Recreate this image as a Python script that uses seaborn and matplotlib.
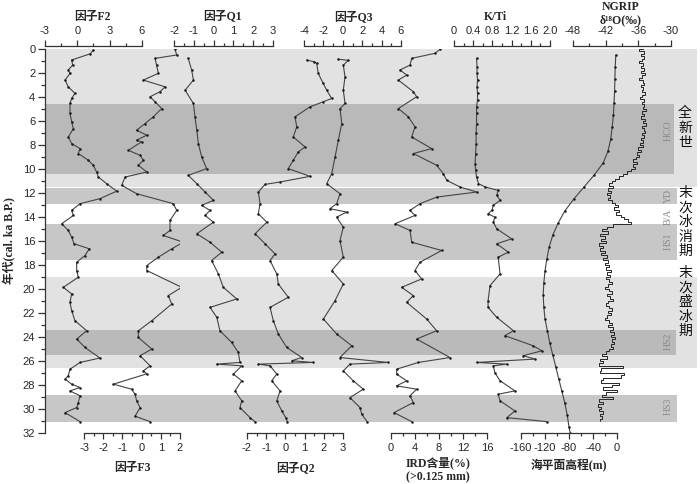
import matplotlib
matplotlib.use("Agg")
import matplotlib.pyplot as plt
from matplotlib.ticker import MultipleLocator, FormatStrFormatter
import seaborn as sns

# ---- data: ages in cal ka B.P. ----
f2_age = [0.08, 0.4, 0.92, 1.34, 1.75, 2.03, 2.59, 3.15, 3.7, 4.12, 4.54, 5.37, 6.07, 6.63, 7.33,
          7.88, 8.3, 8.71, 9.27, 9.69, 10.25, 10.67, 11.22, 11.85, 12.47, 12.89, 13.45, 13.87, 14.56,
          15.12, 15.68, 16.23, 16.65, 17.21, 17.77, 18.46, 19.02, 19.86, 20.41, 21.11, 21.8, 22.64,
          23.48, 24.17, 24.87, 25.75, 26.12, 26.68, 27.23, 27.51, 27.93, 28.21, 28.49, 28.9, 29.46,
          29.88, 30.3, 31.05]
f2 = [1.48, 1.2, -0.53, -0.43, -0.84, -0.68, -1.14, -0.84, -0.22, -0.53, -0.68, -0.68, -0.53, -0.37,
      -0.84, -0.53, 0.25, 0.09, 1.02, 1.48, 1.79, 1.95, 2.72, 3.65, 2.1, 0.25, -0.53, -0.37, -1.45,
      -0.84, -0.53, -0.3, 1.11, 0.71, -0.06, -0.06, 0.09, -1.3, -0.53, -0.68, -0.53, -0.22, 0.87,
      -0.06, 0.71, 2.1, 0.25, -0.68, -0.84, -1.14, -0.53, 0.25, -0.68, 0.25, 0.09, -0.06, -1.14, 0.25]

f3_age = [0.03, 0.5, 0.78, 1.34, 2.03, 2.59, 3.15, 3.56, 3.98, 4.4, 4.96, 5.65, 6.21, 6.77, 7.18,
          7.6, 7.74, 8.44, 8.86, 9.27, 9.69, 10.25, 10.67, 11.36, 12.06, 12.89, 13.45, 14.29, 15.12,
          15.54, 16.1, 16.65, 17.35, 18.05, 18.46, 19.86, 20.55, 21.25, 22.64, 23.48, 24.04, 25.0,
          25.56, 26.4, 26.82, 27.07, 27.93, 28.35, 28.77, 29.32, 29.88, 30.6, 31.05]
f3 = [1.74, 1.83, 0.70, 0.78, 0.87, 0.09, 1.22, 0.96, 0.44, 0.70, 1.05, 0.61, 0.18, -0.26, 0.27,
      -0.26, 0.0, -0.69, -0.08, 0.09, -0.17, 0.27, -0.86, -1.04, -0.26, 1.65, 1.83, 1.48, 1.48,
      1.13, 2.17, 1.57, 0.87, 0.27, 0.27, 2.09, 1.39, 1.57, 0.53, -0.17, -0.17, 0.53, -0.08, 0.44,
      0.09, 0.27, -1.47, -0.52, -0.34, -0.26, -0.08, -0.34, 0.44]

q1_age = [0.78, 1.75, 2.59, 3.43, 4.54, 5.65, 6.77, 7.88, 9.0, 9.97, 10.53, 11.22, 11.92, 12.61,
          13.03, 13.45, 13.87, 14.43, 15.4, 16.1, 16.93, 17.63, 18.74, 19.86, 20.83, 21.53, 22.36,
          23.48, 24.45, 25.29, 26.12, 26.26, 26.4, 27.09, 27.65, 28.49, 29.32, 29.88, 30.72, 31.05]
q1 = [-1.28, -1.11, -1.02, -1.44, -1.02, -0.94, -0.85, -0.77, -0.6, -0.35, -1.28, -0.85, -0.43,
      -0.01, -0.6, -0.18, -0.43, -0.01, -0.85, -0.18, 0.41, -0.1, 0.24, 0.49, 1.17, -0.18, 0.16,
      0.32, 0.91, 1.25, 1.33, 0.16, 1.42, 1.0, 1.42, 1.08, 1.42, 1.33, 1.84, 2.09]

q2_age = [0.92, 1.06, 1.2, 2.03, 2.87, 3.43, 4.12, 4.4, 4.82, 5.65, 6.49, 7.33, 8.16, 8.58, 9.27,
          9.97, 10.61, 11.09, 11.28, 11.92, 12.89, 13.73, 14.43, 15.4, 16.23, 17.07, 17.63, 18.74,
          19.58, 20.69, 21.53, 22.64, 23.75, 24.87, 25.71, 25.98, 26.12, 26.26, 26.4, 27.09, 27.65,
          28.49, 29.32, 30.16, 30.72, 31.05]
q2 = [1.1, 1.5, 1.63, 1.71, 1.97, 2.15, 2.41, 1.97, 1.28, 0.5, 0.59, 0.41, 1.02, 0.67, 0.41, 0.15,
      1.28, -0.3, -1.06, -1.41, -1.32, -1.41, -0.97, -1.58, -1.06, -0.54, -0.8, -0.45, -0.37, 0.15,
      -0.8, -0.63, -0.37, 0.07, 0.85, 0.33, 1.45, -1.41, -0.8, -0.45, -0.71, -0.28, -0.45, -0.19,
      0.02, 0.1]

q3_age = [0.85, 0.95, 1.34, 2.31, 3.43, 4.54, 4.96, 6.21, 7.6, 9.0, 10.39, 11.22, 12.06, 12.89,
          13.31, 13.59, 14.01, 14.85, 15.96, 17.35, 18.46, 19.58, 20.97, 22.5, 23.75, 24.73, 25.71,
          26.12, 26.26, 26.82, 27.65, 28.35, 29.05, 29.88, 30.43, 31.05]
q3 = [-0.46, 0.57, 0.05, 0.23, 0.05, 0.23, -0.29, -0.11, -0.46, -0.8, -1.14, -1.66, -0.29, -0.63,
      -1.32, 0.4, -0.63, 0.05, -0.29, 0.05, -1.14, 0.05, -0.8, -2.0, -0.63, 0.92, -0.29, 4.66,
      0.74, 0.05, 1.08, 2.11, 0.74, 1.77, 1.95, 2.5]

ird_age = [0.03, 0.36, 0.78, 1.34, 1.75, 2.17, 2.59, 3.56, 3.98, 4.96, 5.65, 6.49, 7.33, 8.3, 8.71,
           9.69, 10.39, 10.94, 11.5, 11.92, 12.34, 12.89, 13.45, 13.87, 14.56, 15.12, 16.1, 16.79,
           17.77, 18.46, 19.16, 19.86, 20.55, 21.11, 22.5, 23.48, 24.17, 25.71, 26.12, 26.68,
           27.09, 27.65, 28.07, 28.35, 28.9, 29.46, 30.3, 31.05]
ird = [8.17, 7.33, 3.45, 3.17, 1.5, 2.62, 1.22, 3.72, 4.28, 1.22, 2.89, 4.0, 3.45, 6.78, 3.72,
       7.61, 8.72, 9.28, 11.5, 14.28, 7.61, 4.83, 3.17, 4.0, 0.67, 3.17, 3.45, 8.44, 4.83, 4.0,
       5.11, 1.78, 3.72, 2.61, 5.94, 7.61, 4.28, 9.83, 4.56, 0.94, 0.94, 2.61, 0.94, 4.28, 3.17,
       3.72, 0.5, 3.45]

kti_age = [0.78, 1.48, 2.03, 2.59, 3.15, 3.7, 4.26, 4.82, 5.37, 6.21, 7.04, 7.88, 8.71, 9.55,
           10.11, 10.67, 11.22, 11.5, 11.78, 12.2, 12.61, 13.03, 13.45, 13.73, 14.01, 14.43,
           14.98, 15.82, 16.23, 16.93, 17.35, 18.74, 19.72, 20.97, 21.53, 22.36, 23.48, 23.89,
           24.73, 25.15, 25.56, 25.84, 26.12, 26.26, 26.4, 26.96, 27.65, 28.49, 28.77, 29.32,
           30.16, 30.72, 31.05]
kti = [0.47, 0.48, 0.48, 0.49, 0.48, 0.49, 0.49, 0.47, 0.47, 0.47, 0.46, 0.46, 0.45, 0.44, 0.45,
       0.47, 0.51, 0.65, 0.92, 0.89, 0.96, 0.82, 0.79, 0.71, 0.85, 0.82, 0.89, 1.2, 0.89, 1.13,
       0.92, 0.96, 0.75, 0.71, 0.71, 0.89, 1.24, 1.06, 1.65, 1.83, 1.44, 1.69, 0.47, 1.1, 0.82,
       0.85, 0.96, 1.27, 0.92, 0.96, 1.27, 1.1, 1.93]

sea_age = [0.5, 1.5, 2.5, 3.5, 4.5, 5.5, 6.5, 7.5, 8.5, 9.5, 10.5, 11.5, 12.5, 13.5, 14.5, 15.5,
           16.5, 17.5, 18.5, 19.5, 20.5, 21.5, 22.5, 23.5, 24.5, 25.5, 26.5, 27.5, 28.5, 29.5,
           30.5, 31.5, 32.0]
sea = [-2, -3, -3.5, -4, -5, -6, -8, -10.5, -15, -23, -38, -55, -72, -87, -98, -107, -113, -117,
       -120, -122, -123, -122, -120, -116, -112, -107, -102, -97, -92, -87, -83, -80, -78]

# NGRIP d18O, one row per ka (0, 0.2, 0.4, 0.6, 0.8 ka into each)
ngrip = [-35.2, -35.8, -35.0, -35.5, -34.9,
         -35.4, -35.9, -35.1, -35.6, -35.0,
         -35.5, -34.8, -35.3, -35.9, -35.2,
         -34.9, -35.6, -35.1, -35.4, -34.8,
         -35.3, -35.7, -35.0, -35.4, -34.9,
         -35.2, -34.6, -35.3, -34.9, -35.5,
         -34.8, -35.2, -34.6, -35.4, -35.0,
         -34.7, -35.3, -35.0, -35.6, -35.1,
         -35.7, -35.2, -36.0, -35.5, -36.2,
         -35.8, -36.4, -36.9, -36.3, -37.0,
         -36.6, -37.4, -38.0, -38.9, -39.6,
         -40.2, -40.9, -41.3, -40.7, -41.6,
         -41.0, -41.8, -41.2, -41.6, -40.9,
         -40.3, -39.8, -40.4, -39.6, -40.1,
         -39.2, -38.6, -37.9, -37.3, -40.6,
         -41.8, -42.6, -41.5, -43.0, -42.2,
         -42.8, -41.9, -43.3, -42.4, -43.0,
         -42.1, -42.9, -41.8, -42.5, -41.6,
         -42.2, -41.4, -41.9, -41.0, -41.7,
         -41.2, -42.0, -41.4, -40.8, -41.6,
         -42.1, -41.3, -40.9, -41.8, -41.2,
         -40.7, -41.5, -42.0, -41.3, -40.9,
         -41.6, -41.0, -41.8, -42.2, -41.4,
         -40.9, -41.5, -40.6, -41.2, -40.5,
         -41.0, -40.3, -40.9, -40.4, -41.1,
         -40.6, -41.4, -42.0, -42.6, -41.8,
         -43.0, -42.4, -43.3, -38.9, -42.8,
         -43.1, -38.6, -39.2, -42.4, -42.9,
         -39.5, -40.8, -42.5, -39.9, -42.0,
         -42.6, -40.6, -43.2, -42.5, -43.4,
         -42.8, -43.3, -42.5, -43.1, -42.7,
         -43.0]
ngrip_age = [i * 0.2 for i in range(len(ngrip))]

# shaded intervals (top, bottom)
band_top = [0.0, 19.0, 4.6, 11.6, 14.6, 23.4, 28.8]
band_bottom = [11.5, 26.6, 10.4, 12.9, 17.6, 25.5, 31.1]

# ---- style ----
sns.set_theme(style="ticks")
plt.rcParams['font.family'] = ['Liberation Sans', 'Noto Sans CJK SC', 'DejaVu Sans']
plt.rcParams['axes.unicode_minus'] = False
LABEL_FONT = ['Liberation Serif', 'Noto Sans CJK SC', 'DejaVu Sans']
LINE = '#444444'
SPINE = '#333333'

W, H = 700, 484
Y0, Y1 = 49, 433  # pixel rows of age 0 and 32


def fx(x):
    return x / W


def fy(y):
    return 1 - y / H


fig = plt.figure(figsize=(7, 4.84), dpi=100)
fig.patch.set_facecolor('white')

# main axis: age scale + shaded bands
ax = fig.add_axes([fx(45), fy(Y1), (697 - 45) / W, (Y1 - Y0) / H])
ax.set_facecolor('none')
ax.set_xlim(0, 1)
ax.set_ylim(32, 0)
for s in ['top', 'right', 'bottom']:
    ax.spines[s].set_visible(False)
ax.spines['left'].set_color(SPINE)
ax.spines['left'].set_linewidth(0.9)
ax.set_xticks([])
ax.yaxis.set_major_locator(MultipleLocator(2))
ax.yaxis.set_minor_locator(MultipleLocator(1))
ax.tick_params(axis='y', which='major', length=5, width=0.9, labelsize=8, pad=2, left=True,
               color=SPINE)
ax.tick_params(axis='y', which='minor', length=3, width=0.9, left=True, color=SPINE)

band_right = [1.0, 1.0, (674 - 45) / 652, (677 - 45) / 652, (677 - 45) / 652,
              (676 - 45) / 652, (677 - 45) / 652]
band_color = ['#e2e2e2', '#e2e2e2', '#b9b9b9', '#c7c7c7', '#c7c7c7', '#bababa', '#c7c7c7']
for t, b, r, c in zip(band_top, band_bottom, band_right, band_color):
    ax.axhspan(t, b, xmin=0, xmax=r, color=c, lw=0, zorder=0)

fig.text(fx(10), fy(241), '年代(cal. ka B.P.)', rotation=90, ha='center', va='center',
         fontsize=8.5, family=LABEL_FONT, fontweight='bold')

# panels: (ages, values, left px, right px, xlim, major, minor, side, fmt)
panels = [
    (f2_age, f2, 45, 142, (-3, 6), 3, 1.5, 'top', '%d'),
    (f3_age, f3, 84, 180, (-3, 2), 1, 0.5, 'bottom', '%d'),
    (q1_age, q1, 174, 273, (-2, 3), 1, 0.5, 'top', '%d'),
    (q2_age, q2, 247, 343, (-2, 3), 1, 0.5, 'bottom', '%d'),
    (q3_age, q3, 304, 401, (-4, 6), 2, 1, 'top', '%d'),
    (ird_age, ird, 391, 487, (0, 16), 4, 2, 'bottom', '%d'),
    (kti_age, kti, 454, 550, (0, 2), 0.4, 0.2, 'top', '%.1f'),
    (sea_age, sea, 521, 617, (-160, 0), 40, 20, 'bottom', '%d'),
    (ngrip_age, ngrip, 573, 671, (-48, -30), 6, 3, 'top', '%d'),
]

for ages, vals, l, r, lim, major, minor, side, fmt in panels:
    pa = fig.add_axes([fx(l), fy(Y1), (r - l) / W, (Y1 - Y0) / H])
    pa.set_facecolor('none')
    if vals is ngrip:
        sns.lineplot(x=vals, y=ages, sort=False, estimator=None, ax=pa, color='#262626',
                     lw=0.7, drawstyle='steps-post')
    else:
        sns.lineplot(x=vals, y=ages, sort=False, estimator=None, ax=pa, color=LINE, lw=0.8,
                     marker='o', markersize=1.8, markeredgewidth=0, markerfacecolor='#1a1a1a')
    pa.set_xlim(*lim)
    pa.set_ylim(32, 0)
    pa.set_xlabel('')
    pa.set_ylabel('')
    pa.set_yticks([])
    for s in ['top', 'right', 'bottom', 'left']:
        pa.spines[s].set_visible(s == side)
    pa.spines[side].set_color(SPINE)
    pa.spines[side].set_linewidth(0.9)
    if side == 'top':
        pa.spines['top'].set_position(('outward', 2))
        pa.xaxis.set_ticks_position('top')
    else:
        pa.xaxis.set_ticks_position('bottom')
    pa.xaxis.set_major_locator(MultipleLocator(major))
    pa.xaxis.set_minor_locator(MultipleLocator(minor))
    if fmt == '%.1f':
        pa.set_xticks([0, 0.4, 0.8, 1.2, 1.6, 2.0])
        pa.set_xticklabels(['0', '0.4', '0.8', '1.2', '1.6', '2.0'])
    else:
        pa.xaxis.set_major_formatter(FormatStrFormatter(fmt))
    pa.tick_params(axis='x', which='major', length=4, width=0.9, labelsize=8, pad=3,
                   color=SPINE, top=(side == 'top'), bottom=(side == 'bottom'),
                   labeltop=(side == 'top'), labelbottom=(side == 'bottom'))
    pa.tick_params(axis='x', which='minor', length=2.5, width=0.9, color=SPINE,
                   top=(side == 'top'), bottom=(side == 'bottom'))

# axis titles
title_kw = dict(ha='center', va='center', fontsize=8.5, family=LABEL_FONT, fontweight='bold')
fig.text(fx(92), fy(17), '因子F2', **title_kw)
fig.text(fx(222), fy(16), '因子Q1', **title_kw)
fig.text(fx(353), fy(17), '因子Q3', **title_kw)
fig.text(fx(495), fy(17), 'K/Ti', **title_kw)
fig.text(fx(621), fy(7), 'NGRIP', **title_kw)
fig.text(fx(621), fy(20), 'δ¹⁸O(‰)', **title_kw)
fig.text(fx(132), fy(468), '因子F3', **title_kw)
fig.text(fx(295), fy(468), '因子Q2', **title_kw)
fig.text(fx(438), fy(463), 'IRD含量(%)', **title_kw)
fig.text(fx(438), fy(477), '(>0.125 mm)', **title_kw)
fig.text(fx(569), fy(466), '海平面高程(m)', **title_kw)

# period names on the right
for name, y in [('全新世', 128), ('末次冰消期', 222), ('末次盛冰期', 302)]:
    fig.text(fx(685), fy(y), '\n'.join(name), ha='center', va='center', fontsize=10,
             family=['Noto Sans CJK SC'], linespacing=1.05, color='#111111')

# event labels
for name, y in [('HCO', 131), ('YD', 196), ('B/A', 217), ('HS1', 241), ('HS2', 341), ('HS3', 406)]:
    fig.text(fx(668), fy(y), name, rotation=90, ha='center', va='center', fontsize=7,
             family=['Liberation Serif'], color='#8a8a8a')

fig.savefig('out.png', dpi=100, facecolor='white')
